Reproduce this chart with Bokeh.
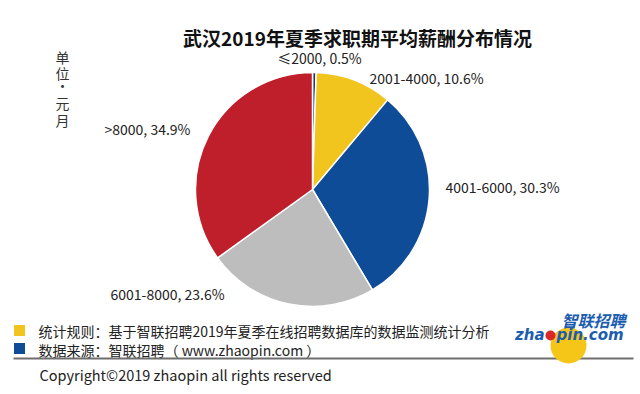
import math
from bokeh.plotting import figure
from bokeh.models import Range1d, ColumnDataSource
from bokeh.core.properties import value
from bokeh.embed import file_html
from bokeh.resources import INLINE

# ---- data ----
categories = ["≤2000", "2001-4000", "4001-6000", "6001-8000", ">8000"]
shares = [0.5, 10.6, 30.3, 23.6, 34.9]
colors = ["#24396B", "#F2C41E", "#0E4C98", "#BDBDBD", "#BF1E2B"]
title = "武汉2019年夏季求职期平均薪酬分布情况"
unit_chars = ["单", "位", "·", "元", "月"]
note1 = "统计规则：基于智联招聘2019年夏季在线招聘数据库的数据监测统计分析"
note2 = "数据来源：智联招聘（ www.zhaopin.com ）"
copyright_text = "Copyright©2019 zhaopin all rights reserved"

# ---- layout (image pixel coords; data y = H - img_y) ----
W, H = 640, 394
def Y(img_y):
    return H - img_y

FONT = "Noto Sans CJK SC"
cx, cy, r = 312, 189, 117

p = figure(width=W, height=H, output_backend="svg", toolbar_location=None,
           x_range=Range1d(0, W), y_range=Range1d(0, H),
           min_border=0)
p.axis.visible = False
p.grid.visible = False
p.outline_line_color = None
p.background_fill_color = "white"

total = sum(shares)
starts, ends = [], []
acc = 0.0
for s in shares:
    starts.append(math.pi / 2 - 2 * math.pi * acc / total)
    acc += s
    ends.append(math.pi / 2 - 2 * math.pi * acc / total)

src = ColumnDataSource(dict(cat=categories, share=shares, color=colors,
                            start=starts, end=ends))
p.wedge(x=cx, y=Y(cy), radius=r, start_angle="start", end_angle="end",
        direction="clock", fill_color="color", line_color="white",
        line_width=1.5, source=src)

# slice labels
label_pos = [(319, 57, "center"), (369, 77, "left"), (445, 186, "left"),
             (110, 293, "left"), (104, 128, "left")]
for (lx, ly, al), c, s in zip(label_pos, categories, shares):
    p.text(x=[lx], y=[Y(ly)], text=[f"{c}, {s}%"], text_font=value(FONT),
           text_font_size="14px", text_color="#222222",
           text_align=al, text_baseline="middle")

# title
p.text(x=[357], y=[Y(37)], text=[title], text_font=value(FONT),
       text_font_size="19px", text_font_style="bold", text_color="#111111",
       text_align="center", text_baseline="middle")

# vertical unit text
unit_y = [56, 72, 84, 102, 119]
for ch, uy in zip(unit_chars, unit_y):
    p.text(x=[62], y=[Y(uy)], text=[ch], text_font=value(FONT),
           text_font_size="14px", text_color="#333333",
           text_align="center", text_baseline="middle")

# footnotes with colored squares
p.rect(x=[19, 19], y=[Y(330), Y(348)], width=11, height=11,
       fill_color=[colors[1], colors[2]], line_color=None)
p.text(x=[38, 38], y=[Y(330), Y(349)], text=[note1, note2],
       text_font=value(FONT), text_font_size="14px", text_color="#222222",
       text_align="left", text_baseline="middle")

p.segment(x0=[13], y0=[Y(358)], x1=[633], y1=[Y(358)],
          line_color="#6E6E6E", line_width=2)

p.text(x=[39], y=[Y(374)], text=[copyright_text], text_font=value(FONT),
       text_font_size="14.5px", text_color="#222222",
       text_align="left", text_baseline="middle")

# logo
p.circle(x=[568], y=[Y(345)], radius=18, fill_color="#F5C518",
         line_color=None)
p.text(x=[593], y=[Y(319)], text=["智联招聘"], text_font=value(FONT),
       text_font_size="16px", text_font_style="bold italic",
       text_color="#1D5DB0", text_align="center", text_baseline="middle")
p.text(x=[544], y=[Y(334)], text=["zha"], text_font=value("DejaVu Sans"),
       text_font_size="15px", text_font_style="bold italic",
       text_color="#1D5DB0", text_align="right", text_baseline="middle")
p.circle(x=[550], y=[Y(335)], radius=5, fill_color="#D8282A",
         line_color=None)
p.text(x=[556], y=[Y(334)], text=["pin.com"], text_font=value("DejaVu Sans"),
       text_font_size="15px", text_font_style="bold italic",
       text_color="#1D5DB0", text_align="left", text_baseline="middle")

open("out.html", "w").write(file_html(p, INLINE))
